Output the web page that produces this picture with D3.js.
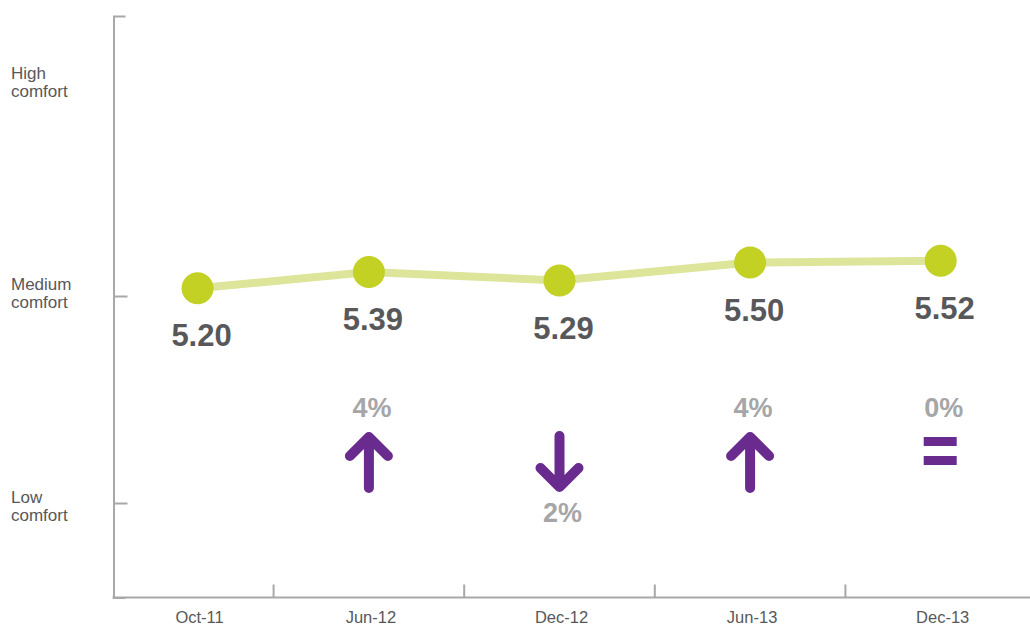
<!DOCTYPE html>
<html>
<head>
    <title>Comfort score</title>
    <script src="https://d3js.org/d3.v7.min.js"></script>
    <style>
        body {
            margin: 0;
            background-color: #fff;
            font-family: "Liberation Sans", Arial, sans-serif;
        }
        .axis path,
        .axis line {
            stroke: #a7a8aa;
            stroke-width: 2;
        }
        .axis text {
            display: none;
        }
        .comfort-label,
        .x-label {
            fill: #58585a;
            font-size: 17px;
        }
        .x-label {
            font-size: 16.5px;
        }
        .value-label {
            fill: #58585a;
            font-size: 31px;
            font-weight: bold;
        }
        .change-label {
            fill: #a6a6a8;
            font-size: 27px;
            font-weight: bold;
        }
    </style>
</head>
<body>
    <svg id="chart"></svg>
    <script>
        // data
        const periods = ['Oct-11', 'Jun-12', 'Dec-12', 'Jun-13', 'Dec-13'];
        const scores = [5.20, 5.39, 5.29, 5.50, 5.52];
        const changes = [null, '4%', '2%', '4%', '0%'];
        const directions = [null, 'up', 'down', 'up', 'flat'];
        const comfortLabels = [['Low', 'comfort'], ['Medium', 'comfort'], ['High', 'comfort']];
        const comfortLabelValues = [2.66, 5.14, 7.6];
        const comfortTicks = [2.7, 5.11];

        const width = 1030, height = 627;
        const axisLeft = 113.5, axisBottom = 597.5, axisTop = 16;

        const svg = d3.select('#chart')
            .attr('width', width)
            .attr('height', height);

        const x = d3.scaleBand()
            .domain(periods)
            .range([83, 1036]);

        const y = d3.scaleLinear()
            .domain([1.6, 8.37])
            .range([axisBottom, axisTop]);

        // first band is clipped by the y axis, so centre in the visible part
        function cx(p) {
            const left = Math.max(x(p), axisLeft);
            return (left + x(p) + x.bandwidth()) / 2 + (p === periods[0] ? 4 : 0);
        }

        // y axis (ticks point right)
        svg.append('g')
            .attr('class', 'axis')
            .attr('transform', `translate(${axisLeft},0)`)
            .call(d3.axisRight(y)
                .tickValues(comfortTicks)
                .tickSize(14)
                .tickSizeOuter(12));

        // x axis with separators between periods
        const xAxis = svg.append('g').attr('class', 'axis');
        xAxis.append('line')
            .attr('x1', axisLeft - 1).attr('x2', width)
            .attr('y1', axisBottom).attr('y2', axisBottom);
        xAxis.selectAll('.sep')
            .data(periods.slice(1))
            .enter()
            .append('line')
            .attr('x1', d => x(d)).attr('x2', d => x(d))
            .attr('y1', axisBottom).attr('y2', axisBottom - 13);

        svg.selectAll('.x-label')
            .data(periods)
            .enter()
            .append('text')
            .attr('class', 'x-label')
            .attr('text-anchor', 'middle')
            .attr('x', d => cx(d) + 2)
            .attr('y', 623)
            .text(d => d);

        // comfort labels
        const cl = svg.selectAll('.comfort-label')
            .data(comfortLabels)
            .enter()
            .append('text')
            .attr('class', 'comfort-label')
            .attr('x', 11)
            .attr('y', (d, i) => y(comfortLabelValues[i]) - 3);
        cl.selectAll('tspan')
            .data(d => d)
            .enter()
            .append('tspan')
            .attr('x', 11)
            .attr('dy', (d, i) => i === 0 ? 0 : 18)
            .text(d => d);

        const pts = periods.map((p, i) => ({ period: p, score: scores[i], change: changes[i], dir: directions[i] }));

        // line
        svg.append('path')
            .datum(pts)
            .attr('fill', 'none')
            .attr('stroke', '#dde59b')
            .attr('stroke-width', 8)
            .attr('d', d3.line().x(d => cx(d.period)).y(d => y(d.score)));

        svg.selectAll('.dot')
            .data(pts)
            .enter()
            .append('circle')
            .attr('class', 'dot')
            .attr('cx', d => cx(d.period))
            .attr('cy', d => y(d.score))
            .attr('r', 16)
            .attr('fill', '#c3d024');

        svg.selectAll('.value-label')
            .data(pts)
            .enter()
            .append('text')
            .attr('class', 'value-label')
            .attr('text-anchor', 'middle')
            .attr('x', d => cx(d.period) + 4)
            .attr('y', d => y(d.score) + 58)
            .text(d => d.score.toFixed(2));

        // change indicators
        const purple = '#6a2b8f';
        const changed = pts.filter(d => d.change);

        svg.selectAll('.change-label')
            .data(changed)
            .enter()
            .append('text')
            .attr('class', 'change-label')
            .attr('text-anchor', 'middle')
            .attr('x', d => cx(d.period) + 3)
            .attr('y', d => d.dir === 'down' ? 522 : 417)
            .text(d => d.change);

        changed.forEach(d => {
            const c = cx(d.period);
            if (d.dir === 'up' || d.dir === 'down') {
                const tip = d.dir === 'up' ? 437 : 487;
                const tail = d.dir === 'up' ? 488 : 436;
                const s = d.dir === 'up' ? 1 : -1;
                const p = d3.path();
                p.moveTo(c, tail); p.lineTo(c, tip);
                p.moveTo(c - 19, tip + s * 19); p.lineTo(c, tip); p.lineTo(c + 19, tip + s * 19);
                svg.append('path')
                    .attr('d', p.toString())
                    .attr('fill', 'none')
                    .attr('stroke', purple)
                    .attr('stroke-width', 10)
                    .attr('stroke-linecap', 'round')
                    .attr('stroke-linejoin', 'round');
            } else {
                [437, 456].forEach(top => {
                    svg.append('rect')
                        .attr('x', c - 17).attr('y', top)
                        .attr('width', 33).attr('height', 9)
                        .attr('fill', purple);
                });
            }
        });
    </script>
</body>
</html>
